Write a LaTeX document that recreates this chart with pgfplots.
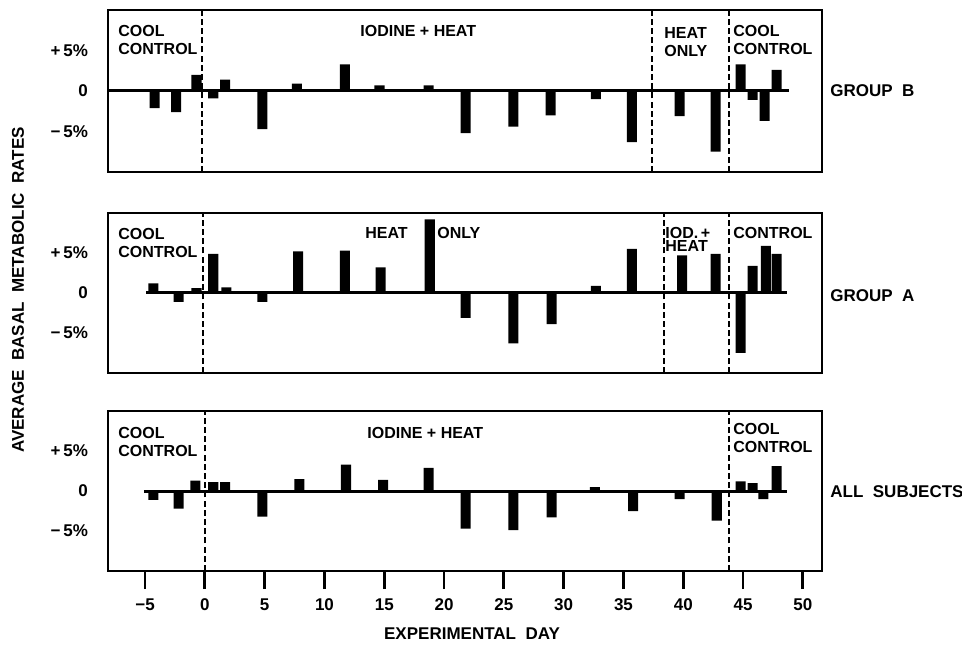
\documentclass[border=0pt]{standalone}
\usepackage{fontspec}
\setmainfont{Liberation Sans}
\usepackage{pgfplots}
\pgfplotsset{compat=1.18}

\begin{document}
\begin{tikzpicture}[x=1pt,y=1pt,font=\bfseries\fontsize{8}{9}\selectfont]
\useasboundingbox (0,0) rectangle (481,324);
\pgfplotsset{
  panel/.style={
    scale only axis, width=357pt, height=80pt,
    anchor=south west,
    xmin=-8.1, xmax=51.6, ymin=-10, ymax=10,
    axis line style={line width=1.4pt},
    ytick={-5,0,5}, yticklabels={−\,5\%,0,+\,5\%},
    ytick style={draw=none},
    yticklabel style={anchor=east, xshift=-6.5pt, font=\bfseries\fontsize{8.5}{10}\selectfont},
    xtick=\empty,
  },
  bars/.style={ybar, bar width=0.84, fill=black, draw=none},
  zero/.style={black, line width=1.5pt},
  sep/.style={black, line width=1pt, dash pattern=on 3pt off 1.6pt},
}

% GROUP B
\begin{axis}[panel, height=81pt, at={(54pt,238pt)}]
\addplot[zero] coordinates {(-8.1,0)(48.8,0)};
\addplot[bars] coordinates {
  (-4.2,-2.1)(-2.4,-2.6)(-0.7,2.0)(0.7,-0.9)(1.7,1.4)(4.8,-4.7)(7.7,0.9)
  (11.7,3.3)(14.6,0.7)(18.7,0.7)(21.8,-5.2)(25.8,-4.4)(28.9,-3.0)(32.7,-1.0)
  (35.7,-6.3)(39.7,-3.1)(42.7,-7.5)(44.8,3.3)(45.8,-1.1)(46.8,-3.7)(47.8,2.6)};
\addplot[sep] coordinates {(-0.2,-10)(-0.2,10)};
\addplot[sep] coordinates {(37.4,-10)(37.4,10)};
\addplot[sep] coordinates {(43.8,-10)(43.8,10)};
\end{axis}

% GROUP A
\begin{axis}[panel, at={(54pt,137.5pt)}]
\addplot[zero] coordinates {(-4.9,0)(48.7,0)};
\addplot[bars] coordinates {
  (-4.3,1.2)(-2.2,-1.1)(-0.7,0.6)(0.7,4.9)(1.8,0.7)(4.8,-1.1)(7.8,5.2)
  (11.7,5.3)(14.7,3.2)(18.8,9.2)(21.8,-3.1)(25.8,-6.3)(29.0,-3.9)(32.7,0.9)
  (35.7,5.5)(39.9,4.7)(42.7,4.9)(44.8,-7.5)(45.8,3.4)(46.9,5.9)(47.8,4.9)};
\addplot[sep] coordinates {(-0.15,-10)(-0.15,10)};
\addplot[sep] coordinates {(38.4,-10)(38.4,10)};
\addplot[sep] coordinates {(43.8,-10)(43.8,10)};
\end{axis}

% ALL SUBJECTS
\begin{axis}[panel, at={(54pt,38.5pt)},
  xtick={-5,0,5,10,15,20,25,30,35,40,45,50},
  xticklabels={−5,0,5,10,15,20,25,30,35,40,45,50},
  xtick align=outside, ytick align=inside, major tick length=9pt,
  xtick style={line width=1.4pt, black},
  xticklabel style={font=\bfseries\fontsize{8.5}{10}\selectfont, yshift=-1.5pt},
  xtick pos=bottom,
]
\addplot[zero] coordinates {(-5.1,0)(48.7,0)};
\addplot[bars] coordinates {
  (-4.3,-1.1)(-2.2,-2.2)(-0.8,1.3)(0.7,1.1)(1.7,1.1)(4.8,-3.2)(7.9,1.5)
  (11.8,3.3)(14.9,1.4)(18.7,2.9)(21.8,-4.7)(25.8,-4.9)(29.0,-3.3)(32.6,0.5)
  (35.8,-2.5)(39.7,-1.0)(42.8,-3.7)(44.8,1.2)(45.8,1.0)(46.7,-1.0)(47.8,3.1)};
\addplot[sep] coordinates {(0,-10)(0,10)};
\addplot[sep] coordinates {(43.8,-10)(43.8,10)};
\end{axis}

% texts, top panel
\node[anchor=north west, inner sep=0, align=left] at (59,311.5) {COOL\\CONTROL};
\node[anchor=north west, inner sep=0] at (180,311.5) {IODINE~+~HEAT};
\node[anchor=north west, inner sep=0, align=left] at (332,310.5) {HEAT\\ONLY};
\node[anchor=north west, inner sep=0, align=left] at (366.5,311.5) {COOL\\CONTROL};
\node[anchor=west, inner sep=0, font=\bfseries\fontsize{8.5}{10}\selectfont] at (415,278.5) {GROUP~~B};
% middle panel
\node[anchor=north west, inner sep=0, align=left] at (59,210) {COOL\\CONTROL};
\node[anchor=north west, inner sep=0] at (182.5,210.5) {HEAT};
\node[anchor=north west, inner sep=0] at (218.5,210.5) {ONLY};
\node[anchor=north west, inner sep=0, align=left, font=\bfseries\fontsize{8}{6.5}\selectfont] at (332.5,210.5) {IOD.\,+\\HEAT};
\node[anchor=north west, inner sep=0] at (366.5,210.5) {CONTROL};
\node[anchor=west, inner sep=0, font=\bfseries\fontsize{8.5}{10}\selectfont] at (415,176) {GROUP~~A};
% bottom panel
\node[anchor=north west, inner sep=0, align=left] at (59,110.5) {COOL\\CONTROL};
\node[anchor=north west, inner sep=0] at (183.5,110.5) {IODINE~+~HEAT};
\node[anchor=north west, inner sep=0, align=left] at (366.5,112.5) {COOL\\CONTROL};
\node[anchor=west, inner sep=0, font=\bfseries\fontsize{8.5}{10}\selectfont] at (415,78) {ALL~~SUBJECTS};
% axis titles
\node[rotate=90, inner sep=0, font=\bfseries\fontsize{8.5}{10}\selectfont] at (9,179) {AVERAGE~~BASAL~~METABOLIC~~RATES};
\node[inner sep=0, font=\bfseries\fontsize{8.5}{10}\selectfont] at (236,7) {EXPERIMENTAL~~DAY};
\end{tikzpicture}
\end{document}
